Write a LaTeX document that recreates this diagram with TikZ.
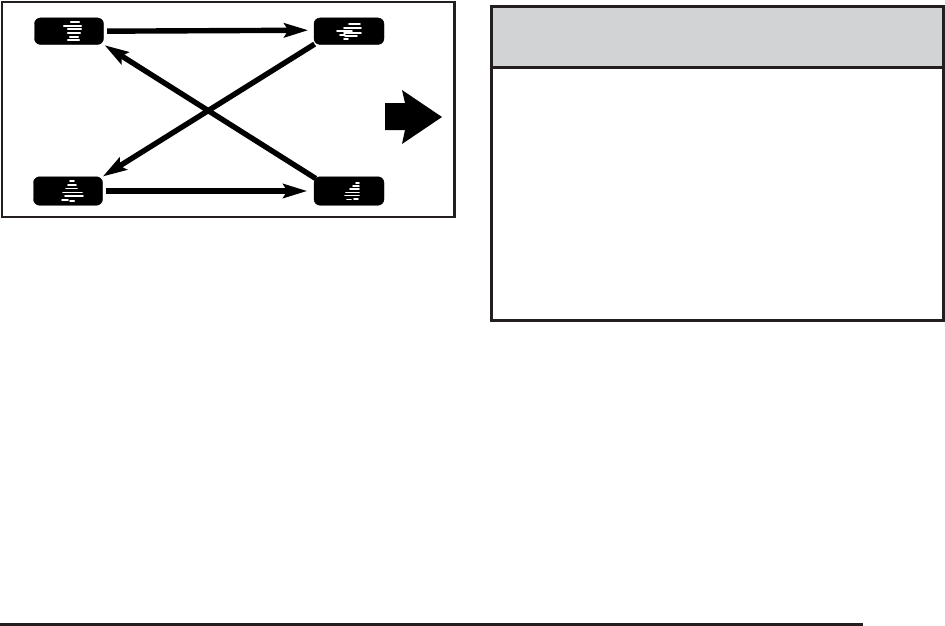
\documentclass[tikz,border=0pt]{standalone}
\usetikzlibrary{arrows.meta}
\definecolor{inkc}{RGB}{35,31,32}
\definecolor{headc}{RGB}{209,211,212}
\tikzset{
  tire/.style={fill=black,draw=black,line width=0.4pt,rounded corners=6pt,minimum width=69pt,minimum height=26.5pt,inner sep=0pt},
  rotarrow/.style={line width=5.4pt,draw=black,-{Stealth[length=24pt,width=14pt,inset=4pt]}},
  tread/.style={draw=white,line width=2.2pt,line cap=round},
  frameline/.style={draw=inkc,line width=2.9pt}
}
\begin{document}
\begin{tikzpicture}[x=1pt,y=-1pt]
\useasboundingbox (0,0) rectangle (945,626);
\fill[white] (0,0) rectangle (945,626);
% left frame
\draw[frameline] (2,2) rectangle (454.7,217);
% tires
\node[tire] (tl) at (69,31.2) {};
\node[tire,minimum width=70pt] (tr) at (349,31.2) {};
\node[tire,minimum height=28.5pt] (bl) at (68,191) {};
\node[tire,minimum width=70pt,minimum height=28.5pt] (br) at (349,191) {};
% tread marks
\foreach \a/\b/\c in {-1/7/-9,-8/9/-5,-4/9/-2,-4/8/2,-2/6/6,-4/7/9}{
  \draw[tread] ([shift={(\a+3,\c)}]tl.center) -- ([shift={(\b+3,\c)}]tl.center);}
\foreach \a/\b/\c in {0/11/-7,-5/12/-3.5,-12/3/-0,-5/12/2,-9/-4/4,-4/8/5,-5/-1/8}{
  \draw[tread,line width=1.7pt] ([shift={(\a,\c)}]tr.center) -- ([shift={(\b,\c)}]tr.center);}
\foreach \a/\b/\c in {-2/2/-10,-4/4/-6,-6/5/-2.5,-9/10/1.5,-7/11/5,-10/-4/9,-2/2/10,-1/2/10}{
  \draw[tread,line width=1.9pt] ([shift={(\a+4,\c)}]bl.center) -- ([shift={(\b+4,\c)}]bl.center);}
\foreach \a/\b/\c in {4/7/-8,1/7/-5,-2/7/-2,-6/7/1.5,-7/7/4.5,-5/-1/8.5,2/6/8}{
  \draw[tread,line width=1.7pt] ([shift={(\a+3,\c)}]br.center) -- ([shift={(\b+3,\c)}]br.center);}
% connectors
\draw[rotarrow,shorten <=3.5pt,shorten >=5.5pt] (tl.east) -- ([yshift=1pt]tr.west);
\draw[rotarrow,shorten <=3.5pt,shorten >=6.5pt] (bl.east) -- (br.west);
\draw[rotarrow,shorten >=1pt] ([shift={(2,2)}]br.north west) -- (tl.south east);
\draw[rotarrow,shorten <=-1pt,shorten >=0pt] (tr.south west) -- (bl.north east);
% big arrow
\fill[black] (385,103) -- (405,103) -- (402,90) -- (442,117) -- (402,144) -- (405,130) -- (385,130) -- cycle;
% right box
\fill[headc] (491,6) rectangle (944,67);
\draw[draw=inkc,line width=2.9pt] (491.2,6.3) rectangle (943.9,320.5);
\draw[draw=inkc,line width=2.9pt] (491.2,67.2) -- (943.9,67.2);
% bottom rule
\draw[draw=inkc,line width=3.2pt] (0,624.4) -- (863,624.4);
\end{tikzpicture}
\end{document}
